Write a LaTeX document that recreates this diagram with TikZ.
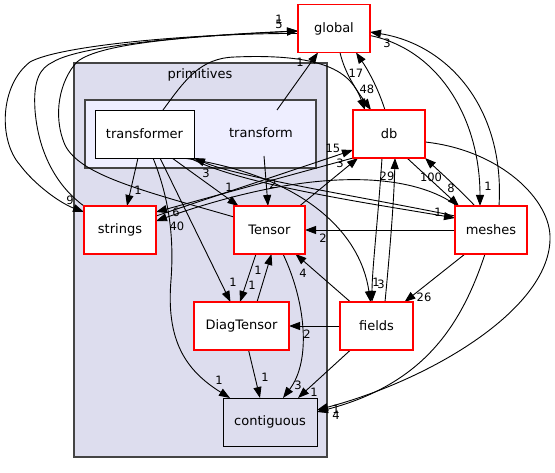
\documentclass[tikz,border=0pt]{standalone}
\usepackage{fontspec}
\setmainfont{DejaVu Sans}
\usetikzlibrary{arrows.meta}
\definecolor{clA}{HTML}{DDDDEE}
\definecolor{clB}{HTML}{EEEEFF}
\definecolor{clBorder}{HTML}{444444}
\definecolor{nodeRed}{HTML}{FF0000}
\pgfdeclarelayer{clusterlayer}
\pgfdeclarelayer{edgelayer}
\pgfsetlayers{clusterlayer,edgelayer,main}
\begin{document}
\begin{tikzpicture}[x=1pt,y=-1pt,
  dirnode/.style={draw=nodeRed, fill=white, line width=1.2pt, minimum height=48pt, inner sep=0pt, outer sep=0pt, font=\fontsize{13}{15}\selectfont},
  plainnode/.style={draw=black, line width=0.9pt, minimum height=48pt, inner sep=0pt, outer sep=0pt, font=\fontsize{13}{15}\selectfont},
  title/.style={inner sep=0pt, font=\fontsize{13}{15}\selectfont},
  arr/.style={-{Triangle[length=11pt,width=8pt]}, line width=0.9pt},
  lbl/.style={inner sep=0pt, font=\fontsize{11.5}{12}\selectfont},
  cluster/.style={draw=clBorder, line width=1.2pt}]
\useasboundingbox (0,0) rectangle (555,473);
% clusters
\begin{pgfonlayer}{clusterlayer}
\draw[cluster, fill=clA] (74,63) rectangle (327,457);
\draw[cluster, fill=clB] (85,100) rectangle (316,168);
\end{pgfonlayer}
\node[title] (primT) at (200,75) {primitives};
\node[title] (transform) at (261,133) {transform};
\coordinate (trT) at (277,110);
\coordinate (trB) at (264,156);
% nodes
\node[dirnode, minimum width=72pt] (global) at (334,28.5) {global};
\node[dirnode, minimum width=72pt] (db) at (389,134) {db};
\node[dirnode, minimum width=72pt] (strings) at (120,230) {strings};
\node[dirnode, minimum width=71pt] (Tensor) at (269.5,230) {Tensor};
\node[dirnode, minimum width=72pt] (meshes) at (491,230) {meshes};
\node[dirnode, minimum width=95pt] (DiagTensor) at (241.5,326) {DiagTensor};
\node[dirnode, minimum width=73pt] (fields) at (376.5,326) {fields};
\node[plainnode, minimum width=94pt] (contiguous) at (270,422) {contiguous};
\node[plainnode, fill=white, minimum width=99pt] (transformer) at (144.5,134) {transformer};
% edges
\begin{pgfonlayer}{edgelayer}
\draw[arr] (trT) -- ([xshift=-16pt]global.south);
\draw[arr] (trB) -- ([xshift=-1.5pt]Tensor.north);
\draw[arr] ([xshift=18.5pt]transformer.north) .. controls (185,80) and (200,58) .. (235,57) .. controls (330,53) and (352,75) .. ([xshift=-24pt]db.north);
\draw[arr] ([xshift=6pt]global.south) .. controls (345,75) and (360,95) .. ([xshift=-18pt]db.north);
\draw[arr] ([xshift=-4pt]db.north) .. controls (378,88) and (368,70) .. ([xshift=22pt]global.south);
\draw[arr] ([yshift=-5pt]global.west) .. controls (200,33) and (60,45) .. (30,62) .. controls (0,85) and (-2,140) .. (20,165) .. controls (35,185) and (60,203) .. ([yshift=18pt]strings.west);
\draw[arr] (strings.north west) .. controls (55,185) and (38,150) .. (35,110) .. controls (33,80) and (40,68) .. (53,62) .. controls (80,45) and (200,35) .. ([yshift=-2.5pt]global.west);
\draw[arr] ([yshift=13pt]Tensor.west) .. controls (140,190) and (80,175) .. (65,145) .. controls (52,115) and (60,80) .. (77,62) .. controls (100,42) and (200,36) .. ([yshift=-2.5pt]global.west);
\draw[arr] ([xshift=8pt]meshes.north) .. controls (505,110) and (450,45) .. ([yshift=-3.5pt]global.east);
\draw[arr] ([yshift=-7pt]global.east) .. controls (440,50) and (480,120) .. ([xshift=-11pt]meshes.north);
\draw[arr] ([xshift=18pt]db.south) -- ([xshift=-32pt]meshes.north);
\draw[arr] ([xshift=-16pt]meshes.north) .. controls (460,190) and (440,172) .. (db.south east);
\draw[arr] ([xshift=-7pt]db.south) .. controls (378,220) and (372,270) .. ([xshift=-4.5pt]fields.north);
\draw[arr] ([xshift=8.5pt]fields.north) .. controls (390,250) and (394,200) .. ([xshift=6pt]db.south);
\draw[arr] ([yshift=-8pt]db.east) .. controls (500,150) and (552,200) .. (550,240) .. controls (548,310) and (430,380) .. ([yshift=12pt]contiguous.east);
\draw[arr] ([xshift=-6pt]meshes.south) .. controls (460,330) and (420,385) .. ([yshift=10pt]contiguous.east);
\draw[arr] ([xshift=-26pt]meshes.south) -- ([xshift=28pt]fields.north);
\draw[arr] (meshes.west) -- (Tensor.east);
\draw[arr] ([xshift=-34pt]meshes.north) .. controls (420,178) and (330,160) .. ([yshift=9pt]strings.east);
\draw[arr] (db.south west) -- ([yshift=18pt]strings.east);
\draw[arr] ([yshift=14pt]strings.east) -- ([yshift=-16pt]db.west);
\draw[arr] ([xshift=30pt]Tensor.north) -- ([xshift=5pt]db.south west);
\draw[arr] ([xshift=45.5pt]transformer.south) .. controls (240,185) and (380,205) .. ([yshift=12pt]meshes.west);
\draw[arr] ([yshift=14pt]meshes.west) .. controls (380,200) and (240,178) .. (transformer.south east);
\draw[arr] ([xshift=-6.5pt]transformer.south) -- ([xshift=7pt]strings.north);
\draw[arr] ([xshift=27.5pt]transformer.south) -- ([xshift=-31pt]Tensor.north);
\draw[arr] ([xshift=15.5pt]transformer.south) -- ([xshift=-11pt]DiagTensor.north);
\draw[arr] ([xshift=8.5pt]transformer.south) .. controls (170,200) and (174,240) .. (171,280) .. controls (166,340) and (185,370) .. ([xshift=-40pt]contiguous.north);
\draw[arr] ([xshift=38.5pt]transformer.south) .. controls (300,175) and (360,230) .. ([xshift=-6pt]fields.north);
\draw[arr] ([xshift=-13.5pt]Tensor.south) -- ([xshift=-1.5pt]DiagTensor.north);
\draw[arr] ([xshift=15.5pt]DiagTensor.north) -- ([xshift=2pt]Tensor.south);
\draw[arr] ([xshift=13.5pt]Tensor.south) .. controls (305,300) and (312,360) .. ([xshift=13pt]contiguous.north);
\draw[arr] ([xshift=7pt]DiagTensor.south) -- ([xshift=-10pt]contiguous.north);
\draw[arr] ([xshift=-26pt]fields.north) -- ([xshift=26pt]Tensor.south);
\draw[arr] (fields.west) -- (DiagTensor.east);
\draw[arr] ([xshift=-26pt]fields.south) -- ([xshift=28pt]contiguous.north);
\end{pgfonlayer}
% labels
\node[lbl] (l01) at (279,19) {1};
\node[lbl] (l02) at (279,24) {5};
\node[lbl] (l03) at (300,62) {1};
\node[lbl] (l04) at (356,73) {17};
\node[lbl] (l05) at (367,89) {48};
\node[lbl] (l06) at (387,43) {3};
\node[lbl] (l07) at (488,186) {1};
\node[lbl] (l08) at (431,177) {100};
\node[lbl] (l09) at (451,188) {8};
\node[lbl] (l10) at (387,176) {29};
\node[lbl] (l11) at (333,148) {15};
\node[lbl] (l12) at (340,163) {3};
\node[lbl] (l13) at (438,212) {1};
\node[lbl] (l14) at (323,238) {2};
\node[lbl] (l15) at (303,273) {4};
\node[lbl] (l16) at (376,282) {1};
\node[lbl] (l17) at (381,284) {3};
\node[lbl] (l18) at (424,297) {26};
\node[lbl] (l19) at (307,334) {2};
\node[lbl] (l20) at (298,385) {3};
\node[lbl] (l21) at (314,392) {1};
\node[lbl] (l22) at (336,409) {1};
\node[lbl] (l23) at (336,415) {4};
\node[lbl] (l24) at (70,200) {9};
\node[lbl] (l25) at (206,173) {3};
\node[lbl] (l26) at (138,190) {1};
\node[lbl] (l27) at (229,187) {1};
\node[lbl] (l28) at (273,184) {2};
\node[lbl] (l29) at (176,212) {6};
\node[lbl] (l30) at (177,226) {40};
\node[lbl] (l31) at (258,270) {1};
\node[lbl] (l32) at (252,285) {1};
\node[lbl] (l33) at (233,282) {1};
\node[lbl] (l34) at (219,380) {1};
\node[lbl] (l35) at (265,377) {1};
\end{tikzpicture}
\end{document}
